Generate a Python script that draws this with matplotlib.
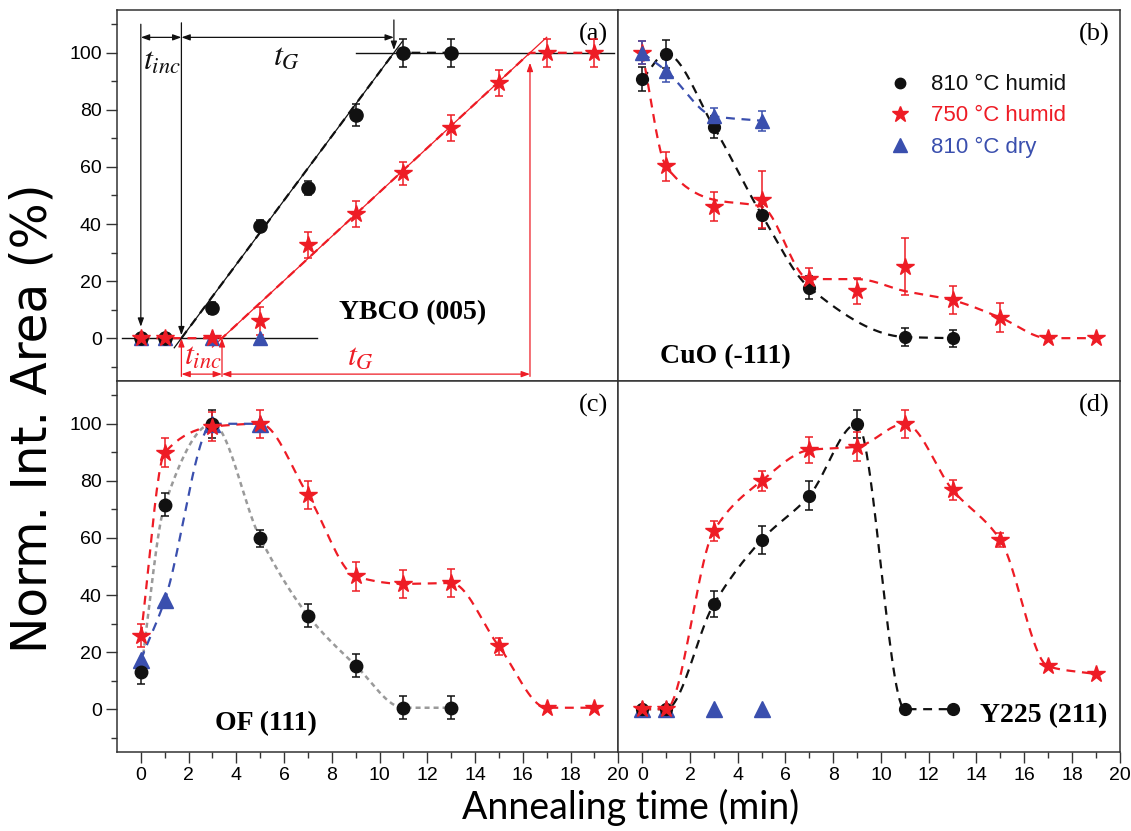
import numpy as np
import matplotlib
matplotlib.use('Agg')
import matplotlib.pyplot as plt
from matplotlib.lines import Line2D

plt.rcParams['font.family'] = ['Liberation Sans', 'DejaVu Sans']
plt.rcParams['mathtext.fontset'] = 'stix'

BLACK = '#111111'
RED = '#ee1c25'
BLUE = '#3a4fae'

# ---- data ----
x_a_black = [0, 1, 3, 5, 7, 9, 11, 13]
y_a_black = [0, 0, 10.6, 39.4, 52.5, 78.2, 100, 100]
e_a_black = [0, 0, 2, 2, 2.5, 4, 5, 5]
x_a_red = [0, 1, 3, 5, 7, 9, 11, 13, 15, 17, 19]
y_a_red = [0, 0, 0, 6, 32.7, 43.6, 57.8, 73.6, 89.4, 100, 100]
e_a_red = [0, 0, 0, 5, 4.5, 4.5, 4, 4.5, 4.5, 5, 5]
x_a_blue = [0, 1, 3, 5]
y_a_blue = [0, 0, 0, 0]
# incubation / growth times for panel (a)
black_t0, black_t1 = 1.7, 10.6
red_t0, red_t1 = 3.4, 16.3

x_b_black = [0, 1, 3, 5, 7, 11, 13]
y_b_black = [90.8, 99.6, 74, 43.3, 17.7, 0.4, 0]
e_b_black = [4.3, 5, 4, 5, 4, 3, 3]
x_b_red = [0, 1, 3, 5, 7, 9, 11, 13, 15, 17, 19]
y_b_red = [100, 60.2, 46.1, 48.5, 20.7, 16.5, 25, 13.3, 7.2, 0, 0]
e_b_red = [4, 5, 5, 10, 4, 4.5, 10, 5, 5, 0, 0]
x_b_blue = [0, 1, 3, 5]
y_b_blue = [100, 93.7, 77.8, 76.2]
e_b_blue = [4, 4, 3, 3.5]

x_c_black = [0, 1, 3, 5, 7, 9, 11, 13]
y_c_black = [12.9, 71.6, 100, 59.9, 32.8, 15.3, 0.5, 0.5]
e_c_black = [4, 4, 5, 3, 4, 4, 4, 4]
x_c_red = [0, 1, 3, 5, 7, 9, 11, 13, 15, 17, 19]
y_c_red = [25.8, 89.9, 99, 100, 75, 46.5, 43.9, 44.2, 22, 0.5, 0.5]
e_c_red = [4, 5, 5, 5, 5, 5, 5, 5, 3, 0, 0]
x_c_blue = [0, 1, 3, 5]
y_c_blue = [17.4, 38.1, 100, 100]

x_d_black = [0, 1, 3, 5, 7, 9, 11, 13]
y_d_black = [0, 0, 36.8, 59.3, 74.8, 100, 0, 0]
e_d_black = [0, 0, 4.5, 5, 5, 5, 0, 0]
x_d_red = [0, 1, 3, 5, 7, 9, 11, 13, 15, 17, 19]
y_d_red = [0, 0, 62.5, 80, 90.8, 92, 100, 76.8, 59.3, 15, 12.3]
e_d_red = [0, 0, 3.5, 3.5, 4.5, 5, 5, 3.5, 2.5, 0, 0]
x_d_blue = [0, 1, 3, 5]
y_d_blue = [0, 0, 0, 0]

labels = ['810 °C humid', '750 °C humid', '810 °C dry']


def pchip(x, y, n=200):
    x = np.asarray(x, float)
    y = np.asarray(y, float)
    h = np.diff(x)
    d = np.diff(y) / h
    m = np.zeros_like(y)
    m[0], m[-1] = d[0], d[-1]
    for k in range(1, len(x) - 1):
        if d[k - 1] * d[k] > 0:
            w1 = 2 * h[k] + h[k - 1]
            w2 = h[k] + 2 * h[k - 1]
            m[k] = (w1 + w2) / (w1 / d[k - 1] + w2 / d[k])
    xs = np.linspace(x[0], x[-1], n)
    i = np.clip(np.searchsorted(x, xs) - 1, 0, len(x) - 2)
    t = (xs - x[i]) / h[i]
    h00 = 2 * t**3 - 3 * t**2 + 1
    h10 = t**3 - 2 * t**2 + t
    h01 = -2 * t**3 + 3 * t**2
    h11 = t**3 - t**2
    ys = h00 * y[i] + h10 * h[i] * m[i] + h01 * y[i + 1] + h11 * h[i] * m[i + 1]
    return xs, ys


def median3(y):
    # trend line: 3-point running median, ends kept
    y = np.asarray(y, float)
    out = y.copy()
    for k in range(1, len(y) - 1):
        out[k] = np.median(y[k - 1:k + 2])
    return out


def points(ax, x, y, err, color, marker, ms):
    if err is None:
        ax.plot(x, y, ls='none', marker=marker, ms=ms, color=color, zorder=5)
    else:
        ax.errorbar(x, y, yerr=err, fmt=marker, ms=ms, color=color, ecolor=color,
                    elinewidth=1.1, capsize=3, capthick=1.1, zorder=5)


def curve(ax, x, y, color, ls=(0, (4, 3)), lw=1.6):
    xs, ys = pchip(x, y)
    ax.plot(xs, ys, color=color, ls=ls, lw=lw, zorder=3)


fig = plt.figure(figsize=(11.31, 8.31), dpi=100)
gs = fig.add_gridspec(2, 2, left=0.1034, right=0.990, top=0.988, bottom=0.0951,
                      wspace=0, hspace=0)
ax_a = fig.add_subplot(gs[0, 0])
ax_b = fig.add_subplot(gs[0, 1])
ax_c = fig.add_subplot(gs[1, 0])
ax_d = fig.add_subplot(gs[1, 1])

for ax in [ax_a, ax_b, ax_c, ax_d]:
    ax.set_xlim(-1, 20)
    ax.set_ylim(-15, 115)
    for s in ax.spines.values():
        s.set_linewidth(1.1)
        s.set_color('#333333')
    ax.set_xticks(np.arange(0, 21, 2))
    ax.set_xticks(np.arange(0, 21, 1), minor=True)
    ax.set_yticks(np.arange(0, 101, 20))
    ax.set_yticks(np.arange(-10, 111, 20), minor=True)
    ax.tick_params(which='both', direction='out', labelsize=14, width=1.0, color='#333333')
    ax.tick_params(which='major', length=8, pad=3)
    ax.tick_params(which='minor', length=4)
for ax in [ax_a, ax_b]:
    ax.tick_params(which='both', bottom=False, labelbottom=False)
for ax in [ax_b, ax_d]:
    ax.tick_params(which='both', left=False, labelleft=False)

# ---- panel (a) ----
ax = ax_a
xl = np.array([black_t0, black_t1, 13])
ax.plot(xl, np.clip(100 * (xl - black_t0) / (black_t1 - black_t0), 0, 100),
        color=BLACK, ls=(0, (4, 3)), lw=1.6, zorder=3)
xr = np.array([0, red_t0, red_t1, 19])
ax.plot(xr, np.clip(100 * (xr - red_t0) / (red_t1 - red_t0), 0, 100),
        color=RED, ls=(0, (4, 3)), lw=1.6, zorder=3)
# fit lines
xf = np.array([black_t0 - 0.3, black_t1 + 0.35])
ax.plot(xf, 100 * (xf - black_t0) / (black_t1 - black_t0), color=BLACK, lw=0.9, zorder=4)
xf = np.array([red_t0 - 0.4, red_t1 + 0.7])
ax.plot(xf, 100 * (xf - red_t0) / (red_t1 - red_t0), color=RED, lw=0.9, zorder=4)
# guide lines
ax.plot([-0.8, 7.4], [0, 0], color=BLACK, lw=1.0, zorder=2)
ax.plot([9.0, 19.8], [100, 100], color=BLACK, lw=1.0, zorder=2)
arr_k = dict(arrowstyle='-|>,head_length=0.5,head_width=0.18', color=BLACK, lw=0.9,
             shrinkA=0, shrinkB=0)
ax.annotate('', xy=(0, 4), xytext=(0, 110), arrowprops=arr_k)
ax.annotate('', xy=(black_t0, 1), xytext=(black_t0, 110.5), arrowprops=arr_k)
ax.annotate('', xy=(black_t1, 101), xytext=(black_t1, 111.5), arrowprops=arr_k)
arr_kk = dict(arrowstyle='<|-|>,head_length=0.5,head_width=0.18', color=BLACK, lw=0.9,
              shrinkA=0, shrinkB=0)
ax.annotate('', xy=(0, 105.4), xytext=(black_t0, 105.4), arrowprops=arr_kk)
ax.annotate('', xy=(black_t0, 105.4), xytext=(black_t1, 105.4), arrowprops=arr_kk)
ax.text(0.9, 97, r'$t_{inc}$', fontsize=23, ha='center', va='center', color=BLACK)
ax.text(6.1, 98.5, r'$t_G$', fontsize=23, ha='center', va='center', color=BLACK)

arr_r = dict(arrowstyle='-|>,head_length=0.5,head_width=0.18', color=RED, lw=0.9,
             shrinkA=0, shrinkB=0)
ax.annotate('', xy=(black_t0, 0), xytext=(black_t0, -13.4), arrowprops=arr_r)
ax.annotate('', xy=(red_t0, 0), xytext=(red_t0, -13.4), arrowprops=arr_r)
ax.annotate('', xy=(red_t1, 96.5), xytext=(red_t1, -13.4), arrowprops=arr_r)
arr_rr = dict(arrowstyle='<|-|>,head_length=0.5,head_width=0.18', color=RED, lw=0.9,
              shrinkA=0, shrinkB=0)
ax.annotate('', xy=(black_t0, -12.6), xytext=(red_t0, -12.6), arrowprops=arr_rr)
ax.annotate('', xy=(red_t0, -12.6), xytext=(red_t1, -12.6), arrowprops=arr_rr)
ax.text(2.6, -6.5, r'$t_{inc}$', fontsize=23, ha='center', va='center', color=RED)
ax.text(9.2, -6.5, r'$t_G$', fontsize=23, ha='center', va='center', color=RED)

points(ax, x_a_black, y_a_black, e_a_black, BLACK, 'o', 9.5)
points(ax, x_a_red, y_a_red, e_a_red, RED, '*', 13)
points(ax, x_a_blue, y_a_blue, None, BLUE, '^', 10)
ax.text(11.4, 8.8, 'YBCO (005)', family='Liberation Serif', weight='bold',
        fontsize=20, ha='center', va='center')

# ---- panel (b) ----
ax = ax_b
curve(ax, x_b_black, y_b_black, BLACK)
curve(ax, x_b_red, median3(y_b_red), RED)
curve(ax, x_b_blue, y_b_blue, BLUE)
points(ax, x_b_black, y_b_black, e_b_black, BLACK, 'o', 8.5)
points(ax, x_b_red, y_b_red, e_b_red, RED, '*', 13)
points(ax, x_b_blue, y_b_blue, e_b_blue, BLUE, '^', 10)
ax.text(3.5, -6.3, 'CuO (-111)', family='Liberation Serif', weight='bold',
        fontsize=20, ha='center', va='center')
handles = [Line2D([], [], ls='none', marker='o', ms=7.5, color=BLACK),
           Line2D([], [], ls='none', marker='*', ms=12, color=RED),
           Line2D([], [], ls='none', marker='^', ms=10, color=BLUE)]
ax.legend(handles, labels, loc='upper left', bbox_to_anchor=(0.50, 0.88),
          frameon=False, fontsize=16, labelcolor=[BLACK, RED, BLUE],
          handlelength=1.0, handletextpad=0.9, labelspacing=0.45)

# ---- panel (c) ----
ax = ax_c
curve(ax, x_c_black, y_c_black, '#9a9a9a', ls=(0, (2, 1.6)), lw=1.8)
curve(ax, x_c_red, y_c_red, RED)
curve(ax, x_c_blue, y_c_blue, BLUE)
points(ax, x_c_black, y_c_black, e_c_black, BLACK, 'o', 9)
points(ax, x_c_red, y_c_red, e_c_red, RED, '*', 13)
points(ax, x_c_blue, y_c_blue, None, BLUE, '^', 11)
ax.text(5.26, -4.9, 'OF (111)', family='Liberation Serif', weight='bold',
        fontsize=20, ha='center', va='center')

# ---- panel (d) ----
ax = ax_d
curve(ax, x_d_black, y_d_black, BLACK)
curve(ax, x_d_red, y_d_red, RED)
points(ax, x_d_black, y_d_black, e_d_black, BLACK, 'o', 8.5)
points(ax, x_d_red, y_d_red, e_d_red, RED, '*', 13)
points(ax, x_d_blue, y_d_blue, None, BLUE, '^', 11)
ax.text(16.8, -2.4, 'Y225 (211)', family='Liberation Serif', weight='bold',
        fontsize=20, ha='center', va='center')

for ax, tag in zip([ax_a, ax_b, ax_c, ax_d], ['(a)', '(b)', '(c)', '(d)']):
    ax.text(0.98, 0.965, tag, transform=ax.transAxes, ha='right', va='top',
            family='Liberation Serif', fontsize=19)

fig.text(0.029, 0.497, 'Norm. Int. Area (%)', rotation=90, ha='center', va='center',
         fontsize=35, family=['DejaVu Sans'])
fig.text(0.558, 0.028, 'Annealing time (min)', ha='center', va='center',
         fontsize=27, family=['Lato', 'DejaVu Sans'])

fig.savefig('out.png', dpi=100)
